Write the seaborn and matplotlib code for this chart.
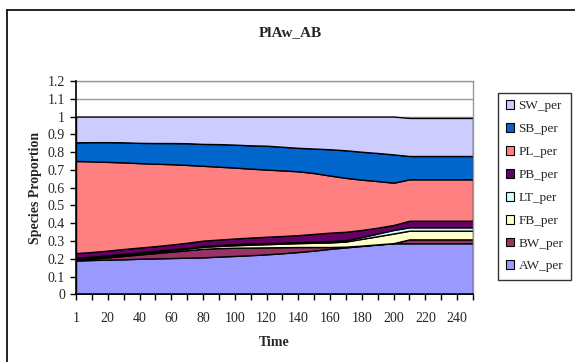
import numpy as np
import pandas as pd
import seaborn as sns
import matplotlib.pyplot as plt
from matplotlib.patches import Patch
import matplotlib.lines as mlines

# data (proportions per species)
time = [1, 10, 20, 30, 40, 50, 60, 70, 80, 90, 100, 110, 120, 130, 140,
        150, 160, 170, 180, 190, 200, 210, 220, 230, 240, 250]

AW_per = [.190, .193, .195, .197, .200, .202, .204, .206, .208, .212, .216, .220, .225,
          .231, .238, .246, .256, .264, .272, .280, .287, .287, .287, .287, .287, .287]
BW_per = [.005, .007, .013, .019, .024, .030, .036, .042, .048, .048, .046, .043, .039,
          .034, .028, .020, .010, .004, .002, .001, .001, .022, .022, .022, .022, .022]
FB_per = [.005, .007, .007, .007, .008, .008, .008, .009, .011, .012, .014, .016, .018,
          .020, .022, .024, .026, .029, .038, .046, .054, .049, .049, .049, .049, .049]
LT_per = [.005, .005, .005, .005, .005, .005, .005, .005, .006, .006, .006, .006, .006,
          .006, .006, .007, .008, .008, .010, .015, .020, .019, .019, .019, .019, .019]
PB_per = [.027, .026, .026, .027, .026, .026, .027, .028, .029, .030, .032, .034, .036,
          .037, .039, .043, .047, .047, .040, .033, .028, .037, .037, .037, .037, .037]
PL_per = [.518, .510, .499, .487, .475, .464, .452, .438, .421, .410, .399, .388, .378,
          .369, .359, .342, .321, .303, .283, .262, .238, .233, .233, .233, .233, .233]
SB_per = [.105, .108, .111, .113, .114, .116, .119, .122, .123, .127, .129, .131, .134,
          .133, .132, .138, .148, .155, .157, .158, .159, .131, .131, .131, .131, .131]
SW_per = [.145, .144, .144, .145, .148, .149, .149, .150, .154, .155, .158, .162, .164,
          .170, .176, .180, .184, .190, .198, .205, .213, .214, .214, .214, .214, .214]

species = ["AW_per", "BW_per", "FB_per", "LT_per", "PB_per", "PL_per", "SB_per", "SW_per"]
colores = ["#9999FF", "#993366", "#FFFFCC", "#CCFFFF", "#660066", "#FF8080", "#0066CC", "#CCCCFF"]

df = pd.DataFrame({"AW_per": AW_per, "BW_per": BW_per, "FB_per": FB_per, "LT_per": LT_per,
                   "PB_per": PB_per, "PL_per": PL_per, "SB_per": SB_per, "SW_per": SW_per},
                  index=time)

sns.set_style("white")
plt.rcParams['font.family'] = ['Liberation Serif', 'DejaVu Serif']

fig = plt.figure(figsize=(5.75, 3.62), dpi=100)
ax = fig.add_axes([76 / 575, 1 - 294.3 / 362, 397 / 575, 213.3 / 362])

# chart area border (Excel style)
fig.add_artist(mlines.Line2D([7 / 575, 7 / 575], [0, 1 - 10 / 362], color="black", lw=1.2))
fig.add_artist(mlines.Line2D([7 / 575, 1], [1 - 10 / 362, 1 - 10 / 362], color="black", lw=1.2))

x = np.arange(len(time))
cum = df.cumsum(axis=1)

# gridlines behind areas
for yv in np.arange(0.1, 1.25, 0.1):
    ax.axhline(yv, color="#999999", lw=1, zorder=0)

bottom = np.zeros(len(time))
for sp, col in zip(species, colores):
    top = cum[sp].values
    ax.fill_between(x, bottom, top, facecolor=col, edgecolor="black", lw=1, zorder=2)
    bottom = top

ax.set_xlim(0, len(time) - 1)
ax.set_ylim(0, 1.2)
ax.set_xticks(x)
ax.set_xticklabels([str(t) if i % 2 == 0 and i < 25 else "" for i, t in enumerate(time)])
ax.set_yticks(np.round(np.arange(0, 1.25, 0.1), 1))
ax.set_yticklabels(["0", "0.1", "0.2", "0.3", "0.4", "0.5", "0.6", "0.7", "0.8", "0.9",
                    "1", "1.1", "1.2"])
ax.tick_params(axis="both", direction="out", length=4, width=1, color="black",
               labelsize=10, pad=4, bottom=True, left=True)
ax.tick_params(axis="x", pad=9)

for s in ["left", "bottom"]:
    ax.spines[s].set_color("black")
    ax.spines[s].set_linewidth(1.2)
    ax.spines[s].set_zorder(5)
for s in ["top", "right"]:
    ax.spines[s].set_color("#999999")
    ax.spines[s].set_linewidth(1)

ax.set_xlabel("Time", fontsize=10, fontweight="bold", labelpad=8)
ax.set_ylabel("Species Proportion", fontsize=10, fontweight="bold", labelpad=4)
fig.text(290 / 575, 1 - 33 / 362, "PlAw_AB", ha="center", va="center",
         fontsize=11, fontweight="bold")

# legend, top to bottom reversed
handles = [Patch(facecolor=c, edgecolor="black", lw=0.8, label=s)
           for s, c in zip(species[::-1], colores[::-1])]
leg = fig.legend(handles=handles, loc="upper left",
                 bbox_to_anchor=(498 / 575, 1 - 92.5 / 362),
                 frameon=True, fancybox=False, edgecolor="black",
                 fontsize=9.5, handlelength=0.65, handleheight=0.65,
                 handletextpad=0.3, labelspacing=0.82, borderpad=0.6,
                 borderaxespad=0)
leg.get_frame().set_linewidth(1)

plt.savefig("out.png", dpi=100)
